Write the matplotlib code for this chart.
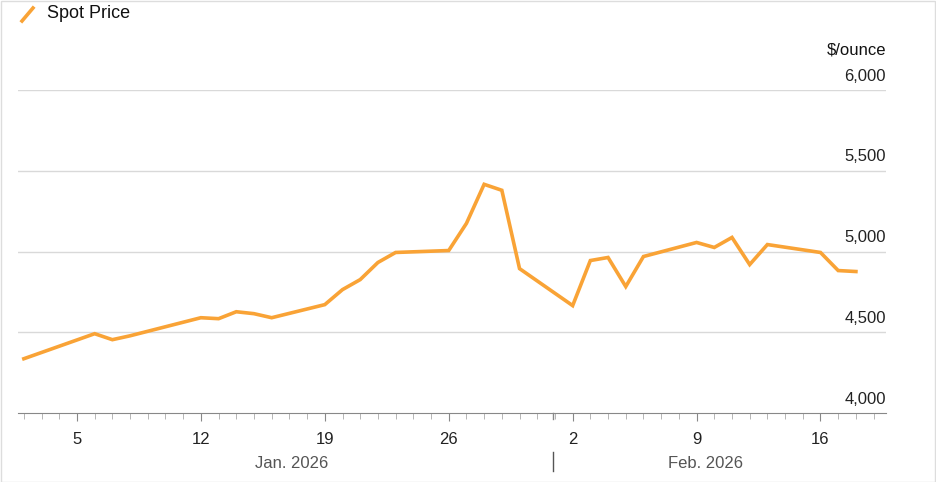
import matplotlib
matplotlib.use("Agg")
import matplotlib.pyplot as plt
from matplotlib.patches import Rectangle
from matplotlib.lines import Line2D

# day index: Jan d -> d, Feb d -> 31+d
days = [2,6,7,8,12,13,14,15,16,19,20,21,22,23,26,27,28,29,30,
        33,34,35,36,37,40,41,42,43,44,47,48,49]
prices = [4336,4491,4454,4478,4590,4584,4627,4615,4590,4671,4764,4826,4932,4994,
          5006,5174,5416,5379,4894,4665,4944,4963,4783,4969,5056,5025,5087,4919,
          5043,4994,4882,4876]
tick_days = [5,12,19,26,33,40,47]
tick_labels = ["5","12","19","26","2","9","16"]
y_ticks = [4000,4500,5000,5500,6000]
y_labels = ["4,000","4,500","5,000","5,500","6,000"]
months = [(17.1,"Jan. 2026"),(40.5,"Feb. 2026")]

orange = "#F9A336"
plt.rcParams['font.family'] = ['Liberation Sans', 'DejaVu Sans']
fig = plt.figure(figsize=(9.36,4.82), dpi=100)
fig.patches.append(Rectangle((0.001,0.001),0.998,0.997,transform=fig.transFigure,
                             fill=False,ec="#dddddd",lw=1))
ax = fig.add_axes([18/936, 1-413/482, 868/936, 323/482])
ax.set_xlim(1.67, 50.7)
ax.set_ylim(4000, 6000)
ax.plot(days, prices, color=orange, lw=2.6, solid_joinstyle='miter')
for v, l in zip(y_ticks, y_labels):
    if v > 4000:
        ax.axhline(v, color="#d9d9d9", lw=1, zorder=0)
    ax.text(1.0, v+40, l, transform=ax.get_yaxis_transform(), ha='right', va='bottom',
            fontsize=12, color="#222222")
ax.text(1.0, 6000+200, "$/ounce", transform=ax.get_yaxis_transform(), ha='right',
        va='bottom', fontsize=12, color="#111111")
for s in ['top','right','left']:
    ax.spines[s].set_visible(False)
ax.spines['bottom'].set_color("#888888")
ax.set_yticks([])
ax.set_xticks(tick_days)
ax.set_xticklabels(tick_labels, fontsize=12, color="#222222")
ax.set_xticks(range(2,51), minor=True)
ax.tick_params(axis='x', which='major', length=6, color="#888888", pad=8)
ax.tick_params(axis='x', which='minor', length=4, color="#aaaaaa")
for d, t in months:
    ax.text(d, -0.155, t, transform=ax.get_xaxis_transform(), ha='center', va='center',
            fontsize=12, color="#555555")
ax.plot([31.9,31.9],[-0.12,-0.18], transform=ax.get_xaxis_transform(), clip_on=False,
        color="#555555", lw=1)
ax.plot([31.9,31.9],[0,-0.02], transform=ax.get_xaxis_transform(), clip_on=False,
        color="#888888", lw=1)
fig.add_artist(Line2D([22/936,33/936],[1-21/482,1-8/482], color=orange, lw=2.6))
fig.text(47/936, 1-14/482, "Spot Price", fontsize=13, va='center', color="#111111")
fig.savefig("out.png", dpi=100)
